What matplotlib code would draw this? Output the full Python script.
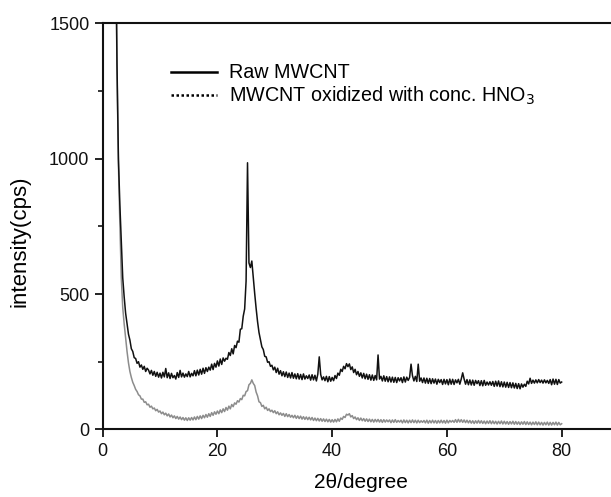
import numpy as np
import matplotlib
matplotlib.use("Agg")
import matplotlib.pyplot as plt
from matplotlib.ticker import MultipleLocator

plt.rcParams['font.family'] = ['Liberation Sans', 'DejaVu Sans']

# 2-theta scan angles (degrees), 0.25 deg step from 2 to 80
two_theta = np.arange(2.0, 80.001, 0.25)

raw_mwcnt = [
    2500, 1900, 1350, 1000, 830, 690, 560, 490,
    430, 392, 352, 330, 298, 288, 265, 262,
    244, 250, 230, 238, 222, 233, 214, 226,
    219, 205, 218, 200, 214, 196, 211, 193,
    208, 190, 211, 194, 225, 191, 209, 188,
    207, 191, 199, 186, 210, 192, 218, 194,
    208, 193, 205, 195, 214, 194, 207, 198,
    217, 198, 219, 201, 222, 204, 226, 207,
    228, 214, 230, 219, 241, 221, 244, 230,
    253, 234, 260, 240, 264, 252, 263, 259,
    284, 273, 298, 279, 310, 302, 326, 322,
    370, 372, 418, 445, 548, 985, 615, 598,
    622, 561, 502, 447, 398, 358, 331, 305,
    295, 270, 268, 248, 250, 233, 237, 220,
    230, 210, 226, 204, 217, 198, 213, 195,
    212, 192, 208, 190, 210, 189, 205, 187,
    206, 186, 203, 184, 205, 186, 198, 188,
    201, 182, 202, 183, 200, 179, 204, 268,
    203, 183, 194, 180, 196, 176, 195, 178,
    192, 180, 199, 188, 208, 200, 222, 214,
    233, 224, 243, 232, 242, 221, 231, 210,
    222, 202, 214, 196, 209, 190, 207, 187,
    204, 185, 202, 182, 201, 181, 199, 183,
    275, 186, 196, 179, 198, 178, 195, 176,
    194, 175, 193, 174, 192, 173, 191, 179,
    191, 173, 194, 175, 193, 181, 192, 241,
    198, 179, 196, 177, 241, 178, 190, 173,
    190, 171, 189, 170, 188, 169, 187, 171,
    186, 167, 185, 173, 184, 166, 185, 168,
    184, 165, 186, 167, 185, 166, 183, 172,
    185, 167, 186, 209, 186, 167, 184, 165,
    183, 164, 182, 163, 181, 169, 180, 162,
    180, 161, 181, 163, 175, 164, 176, 163,
    177, 159, 178, 160, 179, 158, 176, 157,
    175, 156, 174, 155, 173, 154, 172, 153,
    170, 151, 169, 150, 168, 156, 167, 159,
    178, 168, 189, 170, 182, 171, 183, 172,
    184, 173, 182, 171, 183, 172, 181, 170,
    184, 165, 186, 167, 185, 166, 184, 171,
    175,
]

oxidized_mwcnt = [
    2500, 1850, 1330, 980, 760, 560, 450, 390,
    340, 288, 246, 214, 192, 174, 162, 148,
    140, 128, 124, 112, 112, 100, 102, 91,
    93, 82, 86, 76, 79, 69, 74, 64,
    68, 58, 64, 54, 60, 50, 57, 46,
    53, 43, 50, 40, 48, 38, 46, 36,
    44, 34, 43, 33, 43, 34, 44, 35,
    46, 36, 48, 38, 50, 40, 52, 43,
    55, 45, 58, 48, 62, 52, 65, 56,
    68, 58, 72, 62, 76, 66, 81, 71,
    86, 76, 92, 84, 98, 93, 106, 101,
    114, 110, 126, 124, 140, 143, 165, 170,
    183, 170, 162, 138, 124, 102, 99, 85,
    89, 76, 82, 70, 76, 66, 71, 62,
    69, 58, 65, 54, 61, 52, 59, 48,
    58, 47, 55, 45, 52, 43, 52, 41,
    50, 40, 49, 38, 47, 37, 46, 36,
    45, 35, 44, 33, 42, 32, 41, 31,
    40, 30, 39, 29, 38, 28, 37, 27,
    36, 27, 37, 28, 39, 30, 42, 37,
    48, 44, 56, 53, 58, 46, 51, 40,
    46, 36, 43, 33, 42, 32, 40, 30,
    39, 29, 38, 28, 37, 27, 37, 28,
    37, 27, 36, 26, 36, 27, 35, 28,
    35, 25, 35, 26, 36, 26, 33, 27,
    34, 24, 35, 25, 34, 24, 34, 25,
    35, 25, 34, 24, 34, 25, 32, 26,
    33, 24, 34, 23, 33, 24, 34, 24,
    33, 23, 33, 24, 34, 24, 33, 23,
    34, 24, 33, 27, 33, 26, 36, 26,
    37, 27, 36, 26, 35, 25, 34, 24,
    33, 23, 32, 22, 32, 23, 33, 23,
    32, 22, 31, 21, 31, 22, 32, 21,
    31, 21, 30, 20, 30, 21, 31, 20,
    30, 20, 29, 19, 29, 20, 30, 19,
    29, 19, 28, 18, 28, 19, 29, 18,
    28, 18, 27, 17, 27, 18, 28, 17,
    27, 17, 26, 16, 26, 17, 27, 16,
    26, 16, 26, 17, 27, 16, 26, 17,
    21,
]

legend_labels = ["Raw MWCNT", "MWCNT oxidized with conc. HNO$_3$"]
x_ticks = [0, 20, 40, 60, 80]
y_ticks = [0, 500, 1000, 1500]

fig = plt.figure(figsize=(6.11, 4.97), dpi=100)
ax = fig.add_axes([0.168, 0.136, 0.832, 0.817])

ax.plot(two_theta, oxidized_mwcnt, color='#8c8c8c', lw=1.1)
ax.plot(two_theta, raw_mwcnt, color='#111111', lw=1.1)

ax.set_xlim(0, 88.6)
ax.set_ylim(0, 1500)
ax.set_xticks(x_ticks)
ax.set_yticks(y_ticks)
ax.yaxis.set_minor_locator(MultipleLocator(250))
ax.tick_params(axis='both', which='major', direction='out', length=6, width=1.3,
               labelsize=13, colors='#111111')
ax.tick_params(axis='y', which='minor', direction='out', length=3.5, width=1.1)
ax.spines['right'].set_visible(False)
for s in ['left', 'bottom', 'top']:
    ax.spines[s].set_linewidth(1.5)
    ax.spines[s].set_color('#111111')

ax.set_xlabel("2\u03b8/degree", fontsize=15, va='top')
ax.xaxis.set_label_coords(0.508, -0.108)
ax.set_ylabel("intensity(cps)", fontsize=16, va='center')
ax.yaxis.set_label_coords(-0.163, 0.464)

h1, = ax.plot([], [], color='black', lw=1.8, ls='-')
h2, = ax.plot([], [], color='black', lw=1.8, ls=(0, (1, 1)))
ax.legend([h1, h2], legend_labels, loc='upper left', bbox_to_anchor=(0.10, 0.945),
          frameon=False, fontsize=14.2, handlelength=2.3, handletextpad=0.65,
          labelspacing=0.1)

fig.savefig("out.png", dpi=100)
